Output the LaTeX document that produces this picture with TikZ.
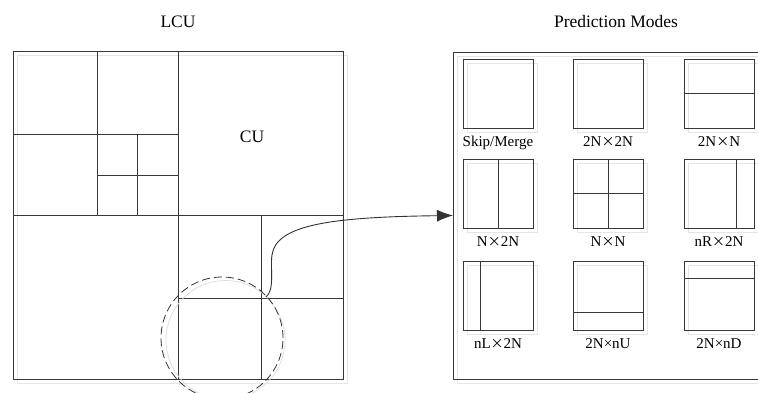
\documentclass[tikz,border=0pt]{standalone}
\usepackage{fontspec}
\setmainfont{Liberation Serif}
\newfontfamily\cjkfont{Noto Sans CJK SC}
\usetikzlibrary{arrows.meta,calc,shadows}
\newcommand{\bigx}{{\cjkfont\fontsize{13}{15}\selectfont ×}}
\begin{document}
\begin{tikzpicture}[x=1pt,y=-1pt,
  ln/.style={draw=black!78,line width=1pt},
  shade box/.style={drop shadow={shadow xshift=4pt,shadow yshift=-4pt,fill=none,draw=black!10,opacity=1,line width=1pt}},
  modebox/.style={ln,shade box,minimum width=70pt,minimum height=69pt,inner sep=0pt,outer sep=0pt},
  modelabel/.style={font=\fontsize{15}{18}\selectfont,inner sep=0pt,anchor=north},
  title/.style={font=\fontsize{17.5}{20}\selectfont,inner sep=0pt}]
\useasboundingbox (0,0) rectangle (758,392);

% titles
\node[title] (tlcu) at (178,22) {LCU};
\node[title] (tmodes) at (616,22) {Prediction Modes};

% largest coding unit with its quadtree split
\node[ln,shade box,minimum width=330pt,minimum height=328pt,inner sep=0pt,outer sep=0pt] (lcu) at (178,215) {};
\draw[ln] (178,51) -- (178,379);
\draw[ln] (13,215) -- (343,215);
\draw[ln] (97,51) -- (97,215);
\draw[ln] (13,134) -- (178,134);
\draw[ln] (137,134) -- (137,215);
\draw[ln] (97,175) -- (178,175);
\draw[ln] (261,215) -- (261,379);
\draw[ln] (178,298) -- (343,298);
\node[title] (cu) at (252,137) {CU};

% highlighted region
\draw[black!12,line width=0.8pt] (225.5,340) circle (59.5);
\node[draw=black!80,line width=0.8pt,dash pattern=on 8pt off 4pt,circle,minimum size=122pt,inner sep=0pt] (zoomc) at (222,338) {};

% panel of prediction modes
\node[ln,shade box,minimum width=311pt,minimum height=327pt,inner sep=0pt,outer sep=0pt] (modes) at (608.5,215.5) {};

\node[modebox] (m1) at (498,93.5) {};
\node[modebox] (m2) at (608,93.5) {};
\node[modebox] (m3) at (719,93.5) {};
\node[modebox] (m4) at (498,193.5) {};
\node[modebox] (m5) at (608,193.5) {};
\node[modebox] (m6) at (719,193.5) {};
\node[modebox] (m7) at (498,295.5) {};
\node[modebox] (m8) at (608,295.5) {};
\node[modebox] (m9) at (719,295.5) {};

% partition lines
\draw[ln] (m3.west) -- (m3.east);
\draw[ln] (m4.north) -- (m4.south);
\draw[ln] (m5.north) -- (m5.south);
\draw[ln] (m5.west) -- (m5.east);
\draw[ln] ($(m6.north west)!0.75!(m6.north east)$) -- ($(m6.south west)!0.75!(m6.south east)$);
\draw[ln] ($(m7.north west)!0.25!(m7.north east)$) -- ($(m7.south west)!0.25!(m7.south east)$);
\draw[ln] ($(m8.north west)!0.75!(m8.south west)$) -- ($(m8.north east)!0.75!(m8.south east)$);
\draw[ln] ($(m9.north west)!0.25!(m9.south west)$) -- ($(m9.north east)!0.25!(m9.south east)$);

% labels
\node[modelabel] (l1) at ([yshift=-8pt]m1.south) {Skip/Merge};
\node[modelabel] (l2) at ([yshift=-8pt]m2.south) {2N\bigx 2N};
\node[modelabel] (l3) at ([yshift=-8pt]m3.south) {2N\bigx N};
\node[modelabel] (l4) at ([yshift=-8pt]m4.south) {N\bigx 2N};
\node[modelabel] (l5) at ([yshift=-8pt]m5.south) {N\bigx N};
\node[modelabel] (l6) at ([yshift=-8pt]m6.south) {nR\bigx 2N};
\node[modelabel] (l7) at ([yshift=-8pt]m7.south) {nL\bigx 2N};
\node[modelabel] (l8) at ([yshift=-8pt]m8.south) {2N×nU};
\node[modelabel] (l9) at ([yshift=-8pt]m9.south) {2N×nD};

% connector from the highlighted CU to the mode panel
\coordinate (src) at (266,297);
\draw[draw=black!80,line width=0.9pt,-{Latex[length=16pt,width=12pt]}]
  (src) .. controls (275,290) and (270,268) .. (272,255)
        .. controls (276,225) and (330,217) .. (modes.west);
\end{tikzpicture}
\end{document}
